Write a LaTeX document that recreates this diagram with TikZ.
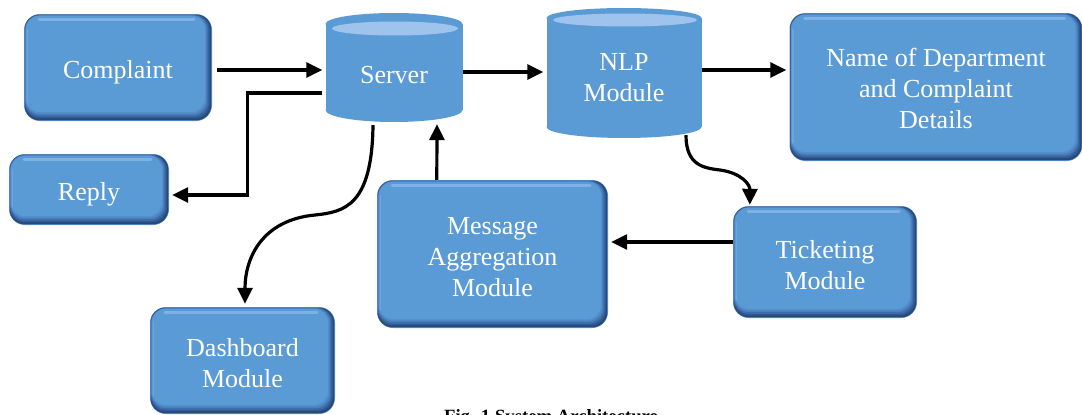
\documentclass[tikz,border=0pt]{standalone}
\usepackage{fontspec}
\setmainfont{Liberation Serif}
\usetikzlibrary{arrows.meta,calc}

\definecolor{boxmain}{HTML}{5B9BD5}
\definecolor{bvRim}{HTML}{5A8CC4}
\definecolor{bvA}{HTML}{26497A}
\definecolor{bvB}{HTML}{31598F}
\definecolor{bvC}{HTML}{3D6BA7}
\definecolor{bvD}{HTML}{4A7FBD}
\definecolor{bvE}{HTML}{538ECB}
\definecolor{bvhl}{HTML}{8DBBEC}
\definecolor{cyltop}{HTML}{9EC3EC}

\newcommand\boxfont{\fontsize{26}{31}\selectfont}

\tikzset{
  bevelbox/.style={rectangle, rounded corners=16pt, fill=bvRim, inner sep=0pt,
    path picture={
      \foreach \a/\b/\c/\d/\col in {0.8/0.8/0.9/0.9/bvA, 1.0/1.0/2.2/2.6/bvB,
                                    1.2/1.2/3.4/4.2/bvC, 1.4/1.4/4.6/5.8/bvD,
                                    1.6/1.6/5.8/7.4/bvE, 1.8/1.8/7/9/boxmain}{
        \fill[\col, rounded corners=14pt]
          ($(path picture bounding box.north west)+(\a,\b)$) rectangle
          ($(path picture bounding box.south east)+(-\c,-\d)$);
      }
      \draw[bvhl, line width=3pt, opacity=.7, line cap=round]
        ($(path picture bounding box.north west)+(15,5)$) --
        ($(path picture bounding box.north east)+(-18,5)$);
      \draw[bvhl, line width=1.2pt, opacity=.35, line cap=round]
        ($(path picture bounding box.north west)+(3.5,16)$) --
        ($(path picture bounding box.south west)+(3.5,-18)$);
    }},
  boxtext/.style={text=white, align=center, font=\boxfont, inner sep=0pt, yshift=-3pt},
  cylframe/.style={rectangle, inner sep=0pt, draw=none},
  cyllabel/.style={text=white, align=center, font=\boxfont, inner sep=0pt},
  arr/.style={line width=3.2pt, -{Triangle[length=16pt,width=15pt]}},
}

\begin{document}
\begin{tikzpicture}[x=1pt, y=-1pt]
  \useasboundingbox (0,0) rectangle (1082,415);

  % rounded boxes
  \node[bevelbox, minimum width=188pt, minimum height=107pt,
        label={[boxtext, yshift=-1.5pt]center:Complaint}] (complaint) at (118,67.5) {};
  \node[bevelbox, minimum width=160pt, minimum height=71pt,
        label={[boxtext, yshift=-1.5pt]center:Reply}] (reply) at (89,189.5) {};
  \node[bevelbox, minimum width=293pt, minimum height=148pt,
        label={[boxtext, yshift=2pt]center:{Name of Department\\and Complaint\\Details}}] (dept) at (936,87) {};
  \node[bevelbox, minimum width=231pt, minimum height=148pt,
        label={[boxtext]center:{Message\\Aggregation\\Module}}] (msg) at (492.5,254) {};
  \node[bevelbox, minimum width=184pt, minimum height=112pt,
        label={[boxtext]center:{Ticketing\\Module}}] (ticket) at (825,262) {};
  \node[bevelbox, minimum width=185pt, minimum height=107pt,
        label={[boxtext]center:{Dashboard\\Module}}] (dash) at (242.5,360.5) {};

  % server cylinder
  \fill[boxmain] (325.5,24) rectangle (462.5,110);
  \fill[boxmain] (394,110) ellipse [x radius=68.5pt, y radius=12pt];
  \fill[boxmain] (394,24) ellipse [x radius=68.5pt, y radius=11pt];
  \fill[cyltop] (395,28.5) ellipse [x radius=63pt, y radius=7pt];
  \node[cylframe, minimum width=137pt, minimum height=110pt] (server) at (394,67) {};
  \node[cyllabel] at ($(server.center)+(0,8)$) {Server};

  % NLP cylinder
  \fill[boxmain] (546.5,18) rectangle (701.5,127);
  \fill[boxmain] (624,127) ellipse [x radius=77.5pt, y radius=11pt];
  \fill[boxmain] (624,18) ellipse [x radius=77.5pt, y radius=10pt];
  \fill[cyltop] (625,20) ellipse [x radius=72pt, y radius=6.5pt];
  \node[cylframe, minimum width=155pt, minimum height=130pt] (nlp) at (624,72) {};
  \node[cyllabel] at ($(nlp.center)+(0,6)$) {NLP\\Module};

  % connectors
  \draw[arr] ($(complaint.east)+(5,2.5)$) -- ($(server.west)+(-3,3)$);
  \draw[arr] ($(server.west)+(-3,26)$) -- ++(-75,0) |- ($(reply.east)+(3,5.5)$);
  \draw[arr] ($(server.east)+(0,5)$) -- ($(nlp.west)+(-3,0)$);
  \draw[arr] ($(nlp.east)+(0,-2)$) -- ($(dept.west)+(-3,-17)$);
  \draw[arr] ($(msg.north west)+(60,0)$) -- ($(server.south)+(43,2)$);
  \draw[arr] ($(ticket.west)+(0,-20)$) coordinate (tw) -- ($(msg.east |- tw)+(3,0)$);
  \draw[arr] ($(server.south)+(-21,3)$)
    .. controls (372,205) and (345,212) .. (315,215)
    .. controls (262,220) and (245,258) .. ($(dash.north)+(2.5,-3)$);
  \draw[arr] ($(nlp.south)+(62,-2)$)
    .. controls (686,165) and (703,168) .. (720,170)
    .. controls (742,173) and (750,185) .. ($(ticket.north west)+(17,-1)$);

  % caption
  \node[anchor=base, font=\fontsize{18.7}{22}\selectfont\bfseries, inner sep=0pt] (caption)
    at (551,422) {Fig. 1 System Architecture};
\end{tikzpicture}
\end{document}
